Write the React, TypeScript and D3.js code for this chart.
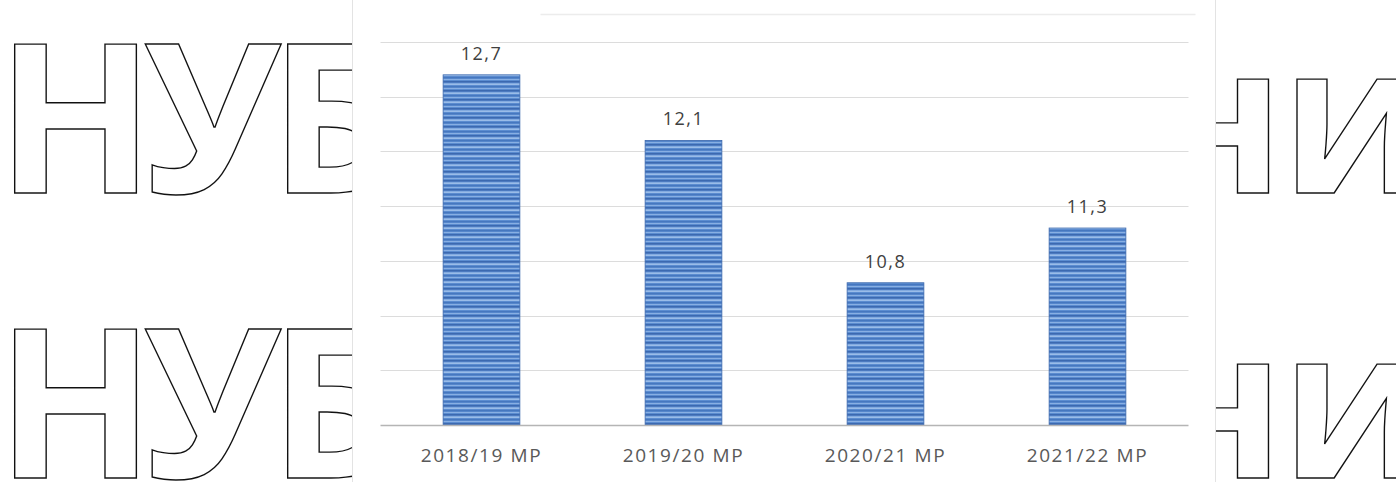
import React from 'react'
import * as d3 from 'd3'

const W = 1396
const H = 482

const categories = ['2018/19 МР', '2019/20 МР', '2020/21 МР', '2021/22 МР']
const values = [12.7, 12.1, 10.8, 11.3]
const yTicks = [9.5, 10, 10.5, 11, 11.5, 12, 12.5, 13]

const fmt = (v: number) => v.toFixed(1).replace('.', ',')

export default function App() {
  React.useEffect(() => {
    document.body.style.margin = '0'
  }, [])

  // plot area
  const left = 380.5, right = 1188.5, top = 42, bottom = 425

  const x = d3.scaleBand<string>()
    .domain(categories)
    .range([left, right])
    .paddingInner(0.62)
    .paddingOuter(0.31)

  const y = d3.scaleLinear().domain([9.5, 13]).range([bottom, top])

  const font = "'Open Sans', 'Noto Sans', sans-serif"
  const rows = [193, 478]

  return (
    <svg width={W} height={H} style={{ display: 'block', background: '#fff' }}>
      <defs>
        {/* scanned look of the bars: horizontal stripes */}
        <pattern id="stripes" width="8" height="9" patternUnits="userSpaceOnUse">
          <rect width="8" height="9" fill="#5b8cd0" />
          <rect y="0" width="8" height="1.5" fill="#3c69b0" />
          <rect y="2.5" width="8" height="1.3" fill="#a9c8ee" />
          <rect y="5" width="8" height="1.3" fill="#4677bf" />
          <rect y="7" width="8" height="1" fill="#88afe3" />
        </pattern>
      </defs>

      {/* watermark "НУБіП України", middle hidden by the chart panel */}
      <g fontFamily={font} fontWeight={700} fontSize={208} fill="#fff" stroke="#111" strokeWidth={1.4} letterSpacing={-12}>
        {rows.map(r => (
          <g key={r}>
            <text x={-4} y={r}>НУБ</text>
            <text x={1147} y={r} letterSpacing={-4}>ни</text>
          </g>
        ))}
      </g>

      {/* chart panel */}
      <rect x={352} y={0} width={864} height={H} fill="#fff" />
      <line x1={352.5} x2={352.5} y1={0} y2={H} stroke="#e3e3e3" />
      <line x1={1215.5} x2={1215.5} y1={0} y2={H} stroke="#e3e3e3" />

      {/* faint top border line */}
      <line x1={left + 160} x2={right + 7} y1={14.5} y2={14.5} stroke="#ececec" strokeWidth={1.5} />

      {/* gridlines */}
      {yTicks.filter(t => t > 9.5).map(t => (
        <line key={t} x1={left} x2={right} y1={Math.round(y(t)) + 0.5} y2={Math.round(y(t)) + 0.5}
          stroke="#dcdcdc" strokeWidth={1} />
      ))}

      {/* bars */}
      {categories.map((c, i) => (
        <g key={c}>
          <rect x={x(c)!} y={y(values[i])} width={x.bandwidth()} height={bottom - y(values[i])}
            fill="url(#stripes)" stroke="#3c68ad" strokeWidth={0.8} />
          <text x={x(c)! + x.bandwidth() / 2} y={y(values[i]) - 15} textAnchor="middle"
            fontFamily={font} fontSize={18} letterSpacing={1.5} fill="#404040">{fmt(values[i])}</text>
          <text x={x(c)! + x.bandwidth() / 2} y={462} textAnchor="middle"
            fontFamily={font} fontSize={19} letterSpacing={1.6} fill="#595959">{c}</text>
        </g>
      ))}

      {/* x axis */}
      <line x1={left} x2={right} y1={bottom + 0.5} y2={bottom + 0.5} stroke="#b5b5b5" strokeWidth={1.5} />
    </svg>
  )
}
